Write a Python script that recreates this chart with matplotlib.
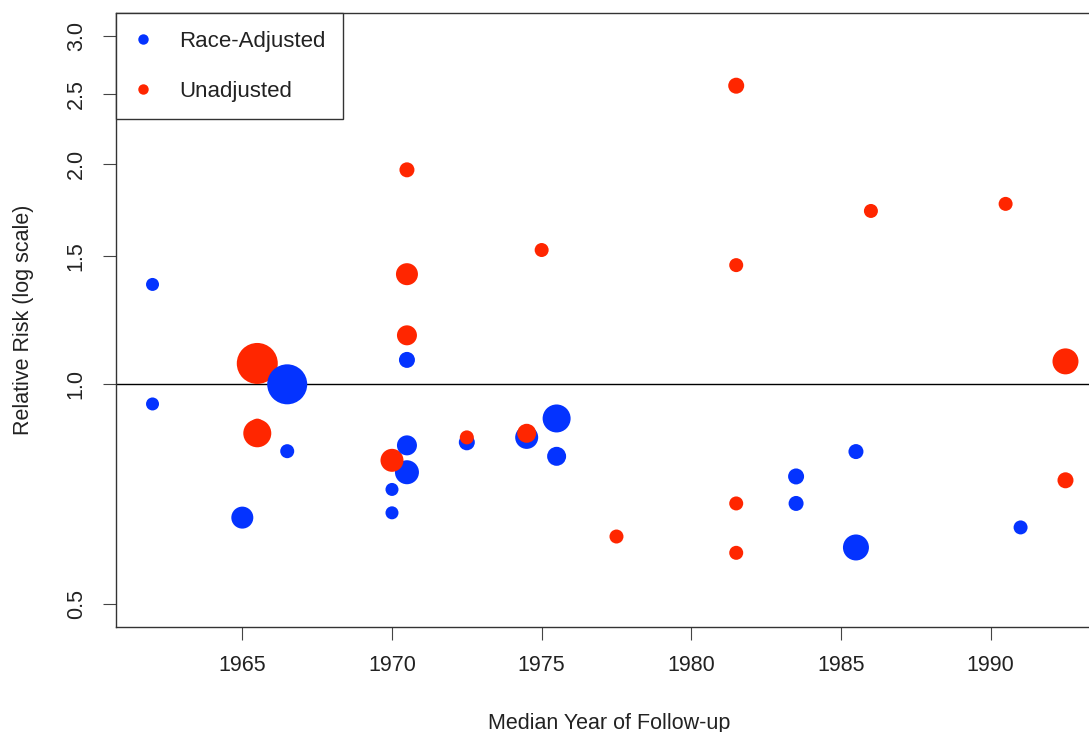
import matplotlib
matplotlib.use("Agg")
import matplotlib.pyplot as plt
import numpy as np
from matplotlib.lines import Line2D

plt.rcParams["font.family"] = ["Liberation Sans", "DejaVu Sans"]

# Race-adjusted estimates: median follow-up year, relative risk, study weight (marker radius, px)
adj_year = [1962.0, 1962.0, 1965.0, 1966.5, 1966.5, 1970.0, 1970.0, 1970.5, 1970.5,
            1970.5, 1972.5, 1974.5, 1975.5, 1975.5, 1983.5, 1983.5, 1985.5, 1985.5, 1991.0]
adj_rr = [1.37, 0.94, 0.657, 1.00, 0.81, 0.718, 0.667, 1.08, 0.825,
          0.758, 0.833, 0.846, 0.898, 0.797, 0.748, 0.687, 0.809, 0.598, 0.637]
adj_w = [6.5, 6.5, 11, 20, 7, 6.5, 6.5, 8, 10,
         12, 8, 11.5, 14, 9.5, 8, 7.5, 7.5, 13, 7]

# Unadjusted estimates
unadj_year = [1965.5, 1965.5, 1965.5, 1970.0, 1970.5, 1970.5, 1970.5, 1972.5, 1974.5,
              1975.0, 1977.5, 1981.5, 1981.5, 1981.5, 1981.5, 1986.0, 1990.5, 1992.5, 1992.5]
unadj_rr = [1.068, 0.878, 0.857, 0.787, 1.966, 1.415, 1.167, 0.846, 0.857,
            1.527, 0.619, 2.563, 1.456, 0.687, 0.588, 1.727, 1.766, 1.075, 0.739]
unadj_w = [20.5, 7, 14, 11.5, 7.5, 11, 10, 7, 9.5,
           7, 7, 8, 7, 7, 7, 7, 7, 13, 8]

yticks = [0.5, 1.0, 1.5, 2.0, 2.5, 3.0]
xticks = [1965, 1970, 1975, 1980, 1985, 1990]

BLUE = "#0433ff"
RED = "#ff2600"

fig = plt.figure(figsize=(10.89, 7.32), dpi=100)
ax = fig.add_axes([116 / 1089, 1 - 627 / 732, (1102 - 116) / 1089, (627 - 13) / 732])

# draw biggest circles first so the small ones stay visible
years = np.array(adj_year + unadj_year)
rr = np.array(adj_rr + unadj_rr)
w = np.array(adj_w + unadj_w)
cols = np.array([BLUE] * len(adj_year) + [RED] * len(unadj_year))
order = np.argsort(-w, kind="stable")
ax.scatter(years[order], rr[order], s=(2 * w[order] * 0.72) ** 2, c=cols[order],
           linewidths=0, zorder=3)

ax.axhline(1.0, color="black", lw=1, zorder=2)

ax.set_yscale("log")
# R-style 4% padding
x0, x1 = min(years), max(years)
pad = 0.04 * (x1 - x0)
ax.set_xlim(x0 - pad, x1 + pad)
lo, hi = np.log(0.5), np.log(3.0)
lpad = 0.04 * (hi - lo)
ax.set_ylim(np.exp(lo - lpad), np.exp(hi + lpad))

ax.set_yticks(yticks)
ax.set_yticklabels([f"{v:.1f}" for v in yticks])
ax.yaxis.set_minor_locator(matplotlib.ticker.NullLocator())
ax.set_xticks(xticks)
ax.set_xticklabels([str(v) for v in xticks])
ax.tick_params(axis="both", length=9.5, width=0.8, color="#444444", labelsize=15.5,
               labelcolor="#222222")
ax.tick_params(axis="x", pad=11)
ax.tick_params(axis="y", pad=11.5, labelrotation=90)
for lab in ax.get_yticklabels():
    lab.set_va("center")

for sp in ax.spines.values():
    sp.set_linewidth(1.0)
    sp.set_color("#333333")

ax.set_xlabel("Median Year of Follow-up", fontsize=15.5, color="#222222", labelpad=26)
ax.set_ylabel("Relative Risk (log scale)", fontsize=15.5, color="#222222", labelpad=23)

handles = [
    Line2D([], [], marker="o", ls="", color=BLUE, markersize=7.5, markeredgewidth=0),
    Line2D([], [], marker="o", ls="", color=RED, markersize=7.5, markeredgewidth=0),
]
leg = ax.legend(handles, ["Race-Adjusted", "Unadjusted"], loc="upper left",
                bbox_to_anchor=(0, 1), borderaxespad=0, fontsize=16, fancybox=False,
                framealpha=1, edgecolor="#333333", labelspacing=1.3, borderpad=0.8,
                handletextpad=1.25, handlelength=0.8)
leg.get_frame().set_linewidth(1.0)
for t in leg.get_texts():
    t.set_color("#222222")

fig.savefig("out.png", dpi=100)
